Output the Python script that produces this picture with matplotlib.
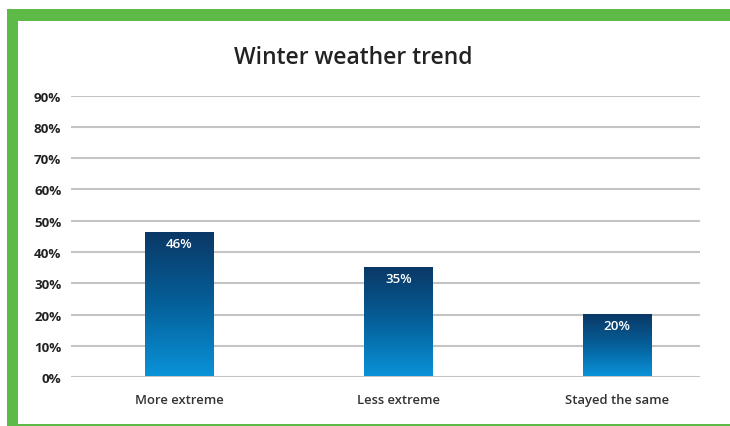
import matplotlib
matplotlib.use("Agg")
import matplotlib.pyplot as plt
import numpy as np
from matplotlib.colors import LinearSegmentedColormap
from matplotlib.patches import Rectangle

categories = ["More extreme", "Less extreme", "Stayed the same"]
values = [46, 35, 20]
value_labels = ["46%", "35%", "20%"]
yticks = [0, 10, 20, 30, 40, 50, 60, 70, 80, 90]
ytick_labels = [f"{t}%" for t in yticks]
title = "Winter weather trend"

plt.rcParams['font.family'] = ['Open Sans', 'DejaVu Sans']

W, H = 730, 427
fig = plt.figure(figsize=(W / 100, H / 100), dpi=100)
fig.patch.set_facecolor("white")

green = "#5dba47"
# Green frame: top band, left band, thin bottom line
fig.add_artist(Rectangle((7 / W, 1 - 22 / H), 1 - 7 / W, 12 / H, transform=fig.transFigure,
                         facecolor=green, edgecolor="none"))
fig.add_artist(Rectangle((7 / W, 0), 11 / W, 1 - 10 / H, transform=fig.transFigure,
                         facecolor=green, edgecolor="none"))
fig.add_artist(Rectangle((7 / W, 0), 1 - 7 / W, 2.5 / H, transform=fig.transFigure,
                         facecolor=green, edgecolor="none"))

left, right = 71, 700
top, bottom = 96.5, 378.3
ax = fig.add_axes([left / W, 1 - bottom / H, (right - left) / W, (bottom - top) / H])
ax.set_facecolor("none")

x = np.arange(len(categories))
bars = ax.bar(x, values, width=0.315, color="none", edgecolor="none", zorder=3)

cmap = LinearSegmentedColormap.from_list("blues", ["#0a3866", "#05609a", "#0a92d8"])
grad = np.linspace(0, 1, 256).reshape(-1, 1)
for b, lab in zip(bars, value_labels):
    x0, y0 = b.get_x(), b.get_y()
    w, h = b.get_width(), b.get_height()
    ax.imshow(grad, cmap=cmap, aspect="auto", extent=(x0, x0 + w, y0 + 0.3, y0 + h),
              origin="upper", zorder=3, interpolation="bilinear")
    ax.text(x0 + w / 2, y0 + h - 1.3, lab, ha="center", va="top", color="white",
            fontsize=9.6, fontweight="semibold", zorder=4)

ax.set_xlim(-0.496, 2.379)
ax.set_ylim(0, 90)
ax.set_yticks(yticks)
ax.set_yticklabels(ytick_labels)
ax.set_xticks(x)
ax.set_xticklabels(categories)
ax.yaxis.grid(True, color="#c4c4c4", linewidth=1.5, zorder=0)
ax.set_axisbelow(True)
for s in ax.spines.values():
    s.set_visible(False)
ax.tick_params(axis="both", length=0)
ax.tick_params(axis="y", pad=7, labelsize=9.6, labelcolor="#222222")
ax.tick_params(axis="x", pad=11, labelsize=9.4, labelcolor="#333333")
for t in ax.get_yticklabels():
    t.set_fontweight("bold")
for t in ax.get_xticklabels():
    t.set_fontweight("semibold")

fig.text(353 / W, 1 - 58 / H, title, ha="center", va="center", fontsize=16.5,
         fontweight="semibold", color="#222222")

fig.savefig("out.png", dpi=100, facecolor="white")
